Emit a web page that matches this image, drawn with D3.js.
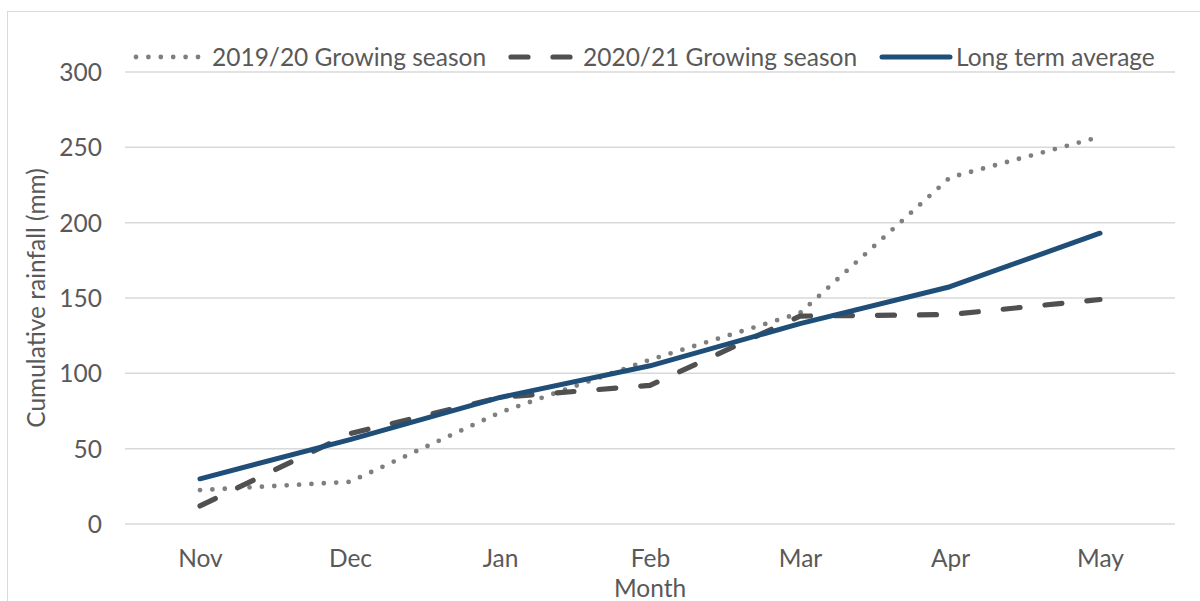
<!DOCTYPE html>
<html><head><meta charset="utf-8">
<script src="https://cdn.jsdelivr.net/npm/d3@7"></script>
<style>body{margin:0;background:#fff;} text{font-family:Lato,"Open Sans",sans-serif;}</style>
</head><body>
<svg id="c" width="1200" height="601"></svg>
<script>
const months = ["Nov","Dec","Jan","Feb","Mar","Apr","May"];
const season1920 = [22.5, 28, 74, 109, 140, 230, 257];
const season2021 = [12, 60, 84, 92, 138, 139, 149];
const longTerm = [30, 56, 84, 105, 133, 157.5, 193];
const yTicks = [0, 50, 100, 150, 200, 250, 300];
const seriesNames = ["2019/20 Growing season", "2020/21 Growing season", "Long term average"];

(function(){
const FS = 24.5, FC = "#595959";
const svg = d3.select("#c");
svg.append("rect").attr("x",7.5).attr("y",11.5).attr("width",1220).attr("height",620)
  .attr("fill","none").attr("stroke","#d9d9d9").attr("stroke-width",1);

const pLeft=125, pRight=1175, pTop=72, pBottom=524;
const x = d3.scalePoint().domain(months).range([pLeft,pRight]).padding(0.5);
const y = d3.scaleLinear().domain([0,300]).range([pBottom,pTop]);

svg.append("g").selectAll("line").data(yTicks).join("line")
  .attr("x1",pLeft).attr("x2",pRight).attr("y1",d=>y(d)).attr("y2",d=>y(d))
  .attr("stroke","#d9d9d9").attr("stroke-width",1.5);

const ya = svg.append("g").attr("transform",`translate(${pLeft},0)`)
  .call(d3.axisLeft(y).tickValues(yTicks).tickSize(0).tickPadding(23));
ya.select(".domain").remove();
ya.selectAll("text").attr("font-size",FS).attr("fill",FC).attr("font-family","Lato, 'Open Sans', sans-serif").attr("dy","0.35em");

const xa = svg.append("g").attr("transform",`translate(0,${pBottom})`)
  .call(d3.axisBottom(x).tickSize(0).tickPadding(0));
xa.select(".domain").remove();
xa.selectAll("text").attr("font-size",FS).attr("fill",FC).attr("font-family","Lato, 'Open Sans', sans-serif")
  .attr("dy",null).attr("y",43);

svg.append("text").attr("x",650).attr("y",597).attr("text-anchor","middle")
  .attr("font-size",FS).attr("fill",FC).text("Month");
svg.append("text").attr("transform","translate(45,298) rotate(-90)").attr("text-anchor","middle")
  .attr("font-size",FS).attr("fill",FC).text("Cumulative rainfall (mm)");

const line = d3.line().x((d,i)=>x(months[i])).y(d=>y(d));

const styles = [
  {stroke:"#7f7f7f", dash:"0,12.4", w:4.8},
  {stroke:"#505050", dash:"17,25", w:5.2},
  {stroke:"#1f4e79", dash:null, w:5}
];
const data = [season1920, season2021, longTerm];
data.forEach((s,i)=>{
  svg.append("path").datum(s).attr("d",line).attr("fill","none")
    .attr("stroke",styles[i].stroke).attr("stroke-width",styles[i].w)
    .attr("stroke-linecap","round").attr("stroke-linejoin","round")
    .attr("stroke-dasharray",styles[i].dash);
});

const legendItems = [
  {x1:136, x2:200, tx:212},
  {x1:511, x2:570, tx:583},
  {x1:882, x2:950, tx:956}
];
legendItems.forEach((l,i)=>{
  svg.append("line").attr("x1",l.x1).attr("x2",l.x2).attr("y1",57).attr("y2",57)
    .attr("stroke",styles[i].stroke).attr("stroke-width",styles[i].w)
    .attr("stroke-linecap","round").attr("stroke-dasharray",styles[i].dash);
  svg.append("text").attr("x",l.tx).attr("y",57).attr("dy","0.35em")
    .attr("font-size",FS).attr("fill",FC).text(seriesNames[i]);
});
})();
</script>
</body></html>
